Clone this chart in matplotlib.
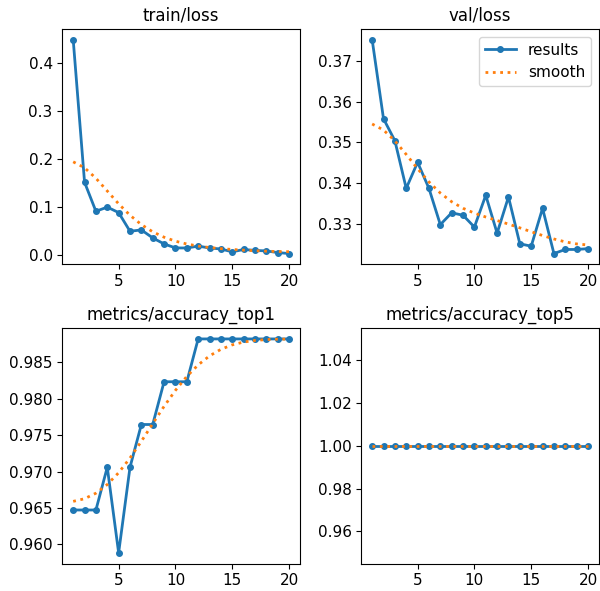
import matplotlib
matplotlib.use("Agg")
import matplotlib.pyplot as plt
import numpy as np

epochs = np.arange(1, 21)

train_loss = [0.448, 0.1516, 0.0913, 0.100, 0.0886, 0.0498, 0.0526, 0.036, 0.0235, 0.0152,
              0.015, 0.019, 0.015, 0.013, 0.007, 0.012, 0.010, 0.009, 0.0055, 0.0035]
val_loss = [0.3752, 0.3558, 0.3504, 0.3387, 0.3451, 0.3387, 0.3298, 0.3327, 0.3321, 0.3292,
            0.3370, 0.3277, 0.3366, 0.3251, 0.3245, 0.3338, 0.3227, 0.3237, 0.3237, 0.3239]
acc_top1 = [0.96471, 0.96471, 0.96471, 0.97059, 0.95882, 0.97059, 0.97647, 0.97647, 0.98235, 0.98235,
            0.98235, 0.98824, 0.98824, 0.98824, 0.98824, 0.98824, 0.98824, 0.98824, 0.98824, 0.98824]
acc_top5 = [1.0] * 20

titles = ["train/loss", "val/loss", "metrics/accuracy_top1", "metrics/accuracy_top5"]
series = [train_loss, val_loss, acc_top1, acc_top5]


def gaussian_smooth(y, sigma=3):
    # same as scipy gaussian_filter1d (reflect mode, truncate=4)
    y = np.asarray(y, dtype=float)
    r = int(4 * sigma + 0.5)
    k = np.exp(-0.5 * (np.arange(-r, r + 1) / sigma) ** 2)
    k /= k.sum()
    padded = np.pad(y, r, mode="symmetric")
    return np.convolve(padded, k, mode="valid")


fig, ax = plt.subplots(2, 2, figsize=(6, 5.91), dpi=100)
fig.subplots_adjust(left=0.104, right=0.998, top=0.951, bottom=0.0465,
                    wspace=0.259, hspace=0.272)
ax = ax.ravel()
for i, (t, y) in enumerate(zip(titles, series)):
    ax[i].plot(epochs, y, marker=".", label="results", linewidth=2, markersize=8)
    ax[i].plot(epochs, gaussian_smooth(y), ":", label="smooth", linewidth=2)
    ax[i].set_title(t, fontsize=12)
    ax[i].set_xticks([5, 10, 15, 20])
    ax[i].tick_params(labelsize=11)
ax[1].legend(fontsize=11)

fig.savefig("out.png", dpi=100)
